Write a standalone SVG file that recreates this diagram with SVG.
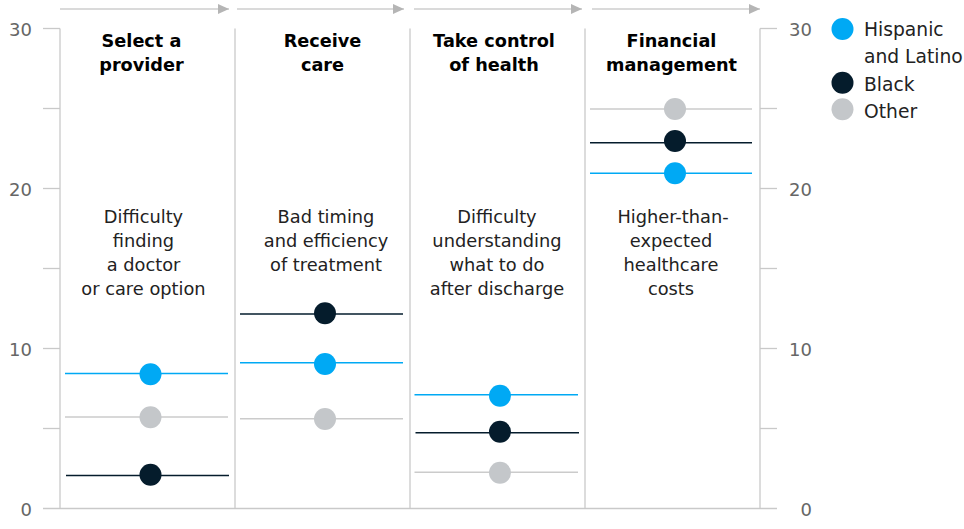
<svg xmlns="http://www.w3.org/2000/svg" width="964" height="529" viewBox="0 0 964 529">
  <defs>
    <marker id="arrow" markerUnits="userSpaceOnUse" viewBox="0 0 11 10" refX="11" refY="5" markerWidth="11" markerHeight="10" orient="auto">
      <path d="M0,0 L11,5 L0,10 Z" fill="#b5b5b5"/>
    </marker>
  </defs>
  <style>
    .axis { stroke: #c9c9c9; stroke-width: 1.3; fill: none; }
    .flow { stroke: #b5b5b5; stroke-width: 1.2; fill: none; }
    .num { font-family: "DejaVu Sans", "Liberation Sans", sans-serif; font-size: 18px; fill: #666666; }
    .head { font-family: "DejaVu Sans", "Liberation Sans", sans-serif; font-size: 17.7px; font-weight: bold; fill: #000; text-anchor: middle; }
    .body { font-family: "DejaVu Sans", "Liberation Sans", sans-serif; font-size: 17.8px; fill: #222; text-anchor: middle; }
    .leg { font-family: "DejaVu Sans", "Liberation Sans", sans-serif; font-size: 18.7px; fill: #222; }
    .lh { stroke: #00a9f4; stroke-width: 1.4; }
    .lb { stroke: #051c2c; stroke-width: 1.4; }
    .lo { stroke: #cbcbcb; stroke-width: 1.4; }
    .dh { fill: #00a9f4; }
    .db { fill: #051c2c; }
    .do { fill: #c4c7ca; }
  </style>

  <g id="axes">
    <line class="axis" x1="43" y1="508.5" x2="777" y2="508.5"/>
    <line class="axis" x1="60" y1="28.5" x2="60" y2="508.5"/>
    <line class="axis" x1="235" y1="28.5" x2="235" y2="508.5"/>
    <line class="axis" x1="410" y1="28.5" x2="410" y2="508.5"/>
    <line class="axis" x1="585" y1="28.5" x2="585" y2="508.5"/>
    <line class="axis" x1="760" y1="28.5" x2="760" y2="508.5"/>
    <g id="ticks-left">
      <line class="axis" x1="43" y1="28.5" x2="60" y2="28.5"/>
      <line class="axis" x1="43" y1="108.5" x2="60" y2="108.5"/>
      <line class="axis" x1="43" y1="188.5" x2="60" y2="188.5"/>
      <line class="axis" x1="43" y1="268.5" x2="60" y2="268.5"/>
      <line class="axis" x1="43" y1="348.5" x2="60" y2="348.5"/>
      <line class="axis" x1="43" y1="428.5" x2="60" y2="428.5"/>
    </g>
    <g id="ticks-right">
      <line class="axis" x1="760" y1="28.5" x2="777" y2="28.5"/>
      <line class="axis" x1="760" y1="108.5" x2="777" y2="108.5"/>
      <line class="axis" x1="760" y1="188.5" x2="777" y2="188.5"/>
      <line class="axis" x1="760" y1="268.5" x2="777" y2="268.5"/>
      <line class="axis" x1="760" y1="348.5" x2="777" y2="348.5"/>
      <line class="axis" x1="760" y1="428.5" x2="777" y2="428.5"/>
    </g>
    <g id="labels-left" text-anchor="end">
      <text class="num" x="32" y="35.5">30</text>
      <text class="num" x="32" y="195.5">20</text>
      <text class="num" x="32" y="355.5">10</text>
      <text class="num" x="32" y="515.5">0</text>
    </g>
    <g id="labels-right" text-anchor="end">
      <text class="num" x="812" y="35.5">30</text>
      <text class="num" x="812" y="195.5">20</text>
      <text class="num" x="812" y="355.5">10</text>
      <text class="num" x="812" y="515.5">0</text>
    </g>
  </g>

  <g id="connectors">
    <line class="flow" x1="60" y1="9" x2="229" y2="9" marker-end="url(#arrow)"/>
    <line class="flow" x1="237" y1="9" x2="404" y2="9" marker-end="url(#arrow)"/>
    <line class="flow" x1="414" y1="9" x2="582" y2="9" marker-end="url(#arrow)"/>
    <line class="flow" x1="592" y1="9" x2="760" y2="9" marker-end="url(#arrow)"/>
  </g>

  <g id="col-select-provider">
    <text class="head" x="141.5" y="47">Select a</text>
    <text class="head" x="141.5" y="71">provider</text>
    <text class="body" x="143.5" y="222.5">Difficulty</text>
    <text class="body" x="143.5" y="246.5">finding</text>
    <text class="body" x="143.5" y="270.5">a doctor</text>
    <text class="body" x="143.5" y="294.5">or care option</text>
    <line class="lh" x1="65" y1="373.5" x2="228" y2="373.5"/>
    <line class="lo" x1="65" y1="417" x2="228" y2="417"/>
    <line class="lb" x1="66" y1="475.5" x2="229" y2="475.5"/>
    <circle class="dh" cx="150.5" cy="374.3" r="11"/>
    <circle class="do" cx="150.5" cy="417.3" r="11"/>
    <circle class="db" cx="150.5" cy="474.7" r="11"/>
  </g>

  <g id="col-receive-care">
    <text class="head" x="322.5" y="47">Receive</text>
    <text class="head" x="322.5" y="71">care</text>
    <text class="body" x="326" y="222.5">Bad timing</text>
    <text class="body" x="326" y="246.5">and efficiency</text>
    <text class="body" x="326" y="270.5">of treatment</text>
    <line class="lb" x1="240" y1="314" x2="403" y2="314"/>
    <line class="lh" x1="240" y1="362.7" x2="403" y2="362.7"/>
    <line class="lo" x1="240" y1="418.7" x2="403" y2="418.7"/>
    <circle class="db" cx="325" cy="313.3" r="11"/>
    <circle class="dh" cx="325" cy="364" r="11"/>
    <circle class="do" cx="325" cy="419" r="11"/>
  </g>

  <g id="col-take-control">
    <text class="head" x="494" y="47">Take control</text>
    <text class="head" x="494" y="71">of health</text>
    <text class="body" x="497" y="222.5">Difficulty</text>
    <text class="body" x="497" y="246.5">understanding</text>
    <text class="body" x="497" y="270.5">what to do</text>
    <text class="body" x="497" y="294.5">after discharge</text>
    <line class="lh" x1="414.5" y1="394.7" x2="578" y2="394.7"/>
    <line class="lb" x1="415.5" y1="432.7" x2="579" y2="432.7"/>
    <line class="lo" x1="414.5" y1="472.3" x2="578" y2="472.3"/>
    <circle class="dh" cx="500" cy="395.7" r="11"/>
    <circle class="db" cx="500" cy="431.7" r="11"/>
    <circle class="do" cx="500" cy="472.7" r="11"/>
  </g>

  <g id="col-financial-management">
    <text class="head" x="671.5" y="47">Financial</text>
    <text class="head" x="671.5" y="71">management</text>
    <text class="body" x="673" y="222.5">Higher-than-</text>
    <text class="body" x="671" y="246.5">expected</text>
    <text class="body" x="671" y="270.5">healthcare</text>
    <text class="body" x="671" y="294.5">costs</text>
    <line class="lo" x1="590" y1="109" x2="752" y2="109"/>
    <line class="lb" x1="590" y1="142.7" x2="752" y2="142.7"/>
    <line class="lh" x1="590" y1="173.3" x2="752" y2="173.3"/>
    <circle class="do" cx="675" cy="109" r="11"/>
    <circle class="db" cx="675" cy="141" r="11"/>
    <circle class="dh" cx="675" cy="173.3" r="11"/>
  </g>

  <g id="legend">
    <circle class="dh" cx="842.5" cy="29" r="11"/>
    <text class="leg" x="864" y="36">Hispanic</text>
    <text class="leg" x="864" y="63">and Latino</text>
    <circle class="db" cx="842.5" cy="82.7" r="11"/>
    <text class="leg" x="864" y="90.5">Black</text>
    <circle class="do" cx="842.5" cy="109.3" r="11"/>
    <text class="leg" x="864" y="117.5">Other</text>
  </g>
</svg>
